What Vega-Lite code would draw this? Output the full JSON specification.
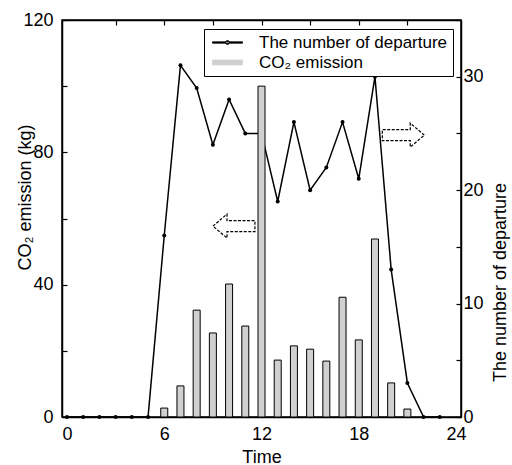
{
  "$schema": "https://vega.github.io/schema/vega-lite/v6.json",
  "width": 399,
  "height": 397,
  "autosize": {"type": "none"},
  "padding": {"left": 62, "top": 20, "right": 51, "bottom": 48},
  "background": "white",
  "config": {
    "font": "Liberation Sans",
    "view": {"stroke": "black", "strokeWidth": 1.5},
    "axis": {
      "domainColor": "black", "domainWidth": 1.5,
      "tickColor": "black", "tickWidth": 1.2,
      "labelColor": "black", "titleColor": "black",
      "labelFont": "Liberation Sans", "titleFont": "Liberation Sans",
      "labelFontSize": 18, "titleFontSize": 18, "titleFontWeight": "normal",
      "grid": false
    }
  },
  "datasets": {
    "series": [
      {"hour": 0, "departures": 0, "co2": null},
      {"hour": 1, "departures": 0, "co2": null},
      {"hour": 2, "departures": 0, "co2": null},
      {"hour": 3, "departures": 0, "co2": null},
      {"hour": 4, "departures": 0, "co2": null},
      {"hour": 5, "departures": 0, "co2": null},
      {"hour": 6, "departures": 16, "co2": 2.7},
      {"hour": 7, "departures": 31, "co2": 9.4},
      {"hour": 8, "departures": 29, "co2": 32.3},
      {"hour": 9, "departures": 24, "co2": 25.4},
      {"hour": 10, "departures": 28, "co2": 40.2},
      {"hour": 11, "departures": 25, "co2": 27.5},
      {"hour": 12, "departures": 25, "co2": 100},
      {"hour": 13, "departures": 19, "co2": 17.2},
      {"hour": 14, "departures": 26, "co2": 21.5},
      {"hour": 15, "departures": 20, "co2": 20.5},
      {"hour": 16, "departures": 22, "co2": 16.9},
      {"hour": 17, "departures": 26, "co2": 36.2},
      {"hour": 18, "departures": 21, "co2": 23.3},
      {"hour": 19, "departures": 30, "co2": 53.8},
      {"hour": 20, "departures": 13, "co2": 10.3},
      {"hour": 21, "departures": 3, "co2": 2.4},
      {"hour": 22, "departures": 0, "co2": null},
      {"hour": 23, "departures": 0, "co2": null}
    ],
    "arrows": [
      {"x": 10.3, "y": 57.7, "dir": "left"},
      {"x": 20.75, "y": 85.2, "dir": "right"}
    ]
  },
  "layer": [
    {
      "data": {"name": "series"},
      "mark": {"type": "line", "strokeWidth": 1.5, "point": {"filled": true, "size": 16}},
      "encoding": {
        "x": {
          "field": "hour", "type": "quantitative",
          "scale": {"domain": [0, 24], "nice": false},
          "axis": {"orient": "bottom", "values": [0, 6, 12, 18, 24], "ticks": false, "labelPadding": 8, "title": "Time", "titleY": 40, "titleBaseline": "middle"}
        },
        "y": {
          "field": "departures", "type": "quantitative",
          "scale": {"domain": [0, 35], "nice": false},
          "axis": {
            "orient": "right", "values": [0, 5, 10, 15, 20, 25, 30, 35],
            "labelExpr": "datum.value % 10 === 0 ? datum.label : ''",
            "tickSize": -5, "labelPadding": 7,
            "title": "The number of departure",
            "titleAngle": 270, "titleX": 39, "titleY": 262, "titleAlign": "center", "titleBaseline": "middle"
          }
        },
        "color": {
          "datum": "The number of departure", "type": "nominal",
          "scale": {"domain": ["The number of departure", "CO₂ emission"], "range": ["black", "#d0d0d0"]},
          "legend": {
            "orient": "none", "legendX": 142, "legendY": 9, "title": null,
            "labelFont": "Liberation Sans", "labelFontSize": 17, "labelColor": "black", "labelLimit": 400,
            "strokeColor": "black", "fillColor": "white", "padding": 5,
            "symbolSize": 225, "symbolOffset": 10, "labelOffset": 23, "rowPadding": 2,
            "encode": {
              "symbols": {
                "update": {
                  "shape": {"signal": "datum.value === 'CO₂ emission' ? 'M -2 -0.33 L 2 -0.33 L 2 0.33 L -2 0.33 Z' : 'M -2 -0.09 L 2 -0.09 L 2 0.09 L -2 0.09 Z M -0.27 0 A 0.27 0.27 0 1 0 0.27 0 A 0.27 0.27 0 1 0 -0.27 0 Z'"},
                  "fill": {"signal": "datum.value === 'CO₂ emission' ? '#d0d0d0' : 'black'"},
                  "stroke": {"value": "black"},
                  "strokeWidth": {"value": 0.8},
                  "strokeDash": {"value": []},
                  "opacity": {"value": 1},
                  "fillOpacity": {"value": 1},
                  "size": {"value": 225}
                }
              }
            }
          }
        }
      }
    },
    {
      "data": {"name": "series"},
      "mark": {"type": "bar", "width": 7, "stroke": "black", "strokeWidth": 1},
      "encoding": {
        "x": {"field": "hour", "type": "quantitative", "axis": null},
        "y": {
          "field": "co2", "type": "quantitative",
          "scale": {"domain": [0, 120], "nice": false},
          "axis": {
            "orient": "left", "values": [0, 20, 40, 60, 80, 100, 120],
            "labelExpr": "datum.value % 40 === 0 ? datum.label : ''",
            "tickSize": -5, "labelPadding": 14,
            "title": "CO₂ emission (kg)",
            "titleAngle": 270, "titleX": -37, "titleY": 177, "titleAlign": "center", "titleBaseline": "middle"
          }
        },
        "color": {"datum": "CO₂ emission", "type": "nominal"}
      }
    },
    {
      "data": {"name": "arrows"},
      "mark": {"type": "point", "filled": true, "fill": "white", "stroke": "black", "strokeWidth": 1.2, "strokeDash": [3, 1.5], "size": 1764, "opacity": 1},
      "encoding": {
        "x": {
          "field": "x", "type": "quantitative",
          "axis": {"orient": "top", "values": [3, 6, 9, 12, 15, 18, 21], "labels": false, "tickSize": -5, "title": null}
        },
        "y": {"field": "y", "type": "quantitative", "scale": {"domain": [0, 120], "nice": false}, "axis": null},
        "shape": {
          "field": "dir", "type": "nominal",
          "scale": {"domain": ["left", "right"], "range": ["M -1 0 L -0.33 -0.57 L -0.33 -0.26 L 1 -0.26 L 1 0.26 L -0.33 0.26 L -0.33 0.57 Z", "M 1 0 L 0.33 -0.57 L 0.33 -0.26 L -1 -0.26 L -1 0.26 L 0.33 0.26 L 0.33 0.57 Z"]},
          "legend": null
        }
      }
    }
  ],
  "resolve": {"scale": {"y": "independent"}, "axis": {"x": "independent"}}
}
